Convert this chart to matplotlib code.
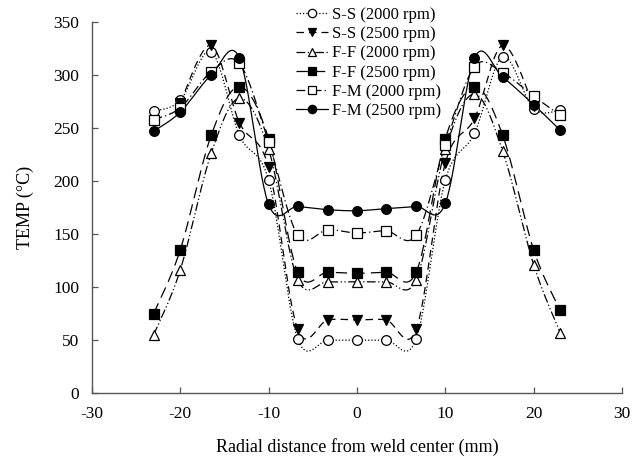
import matplotlib

matplotlib.use("Agg")
import matplotlib.pyplot as plt  # noqa: E402
import numpy as np  # noqa: E402
from matplotlib.lines import Line2D  # noqa: E402

plt.rcParams["font.family"] = ["Liberation Serif", "DejaVu Serif"]
plt.rcParams["axes.unicode_minus"] = False

# radial positions of thermocouples (mm)
X_FULL = [-23, -20, -16.5, -13.3, -10, -6.7, -3.3, 0, 3.3, 6.7, 10, 13.3, 16.5, 20, 23]
X_SS25 = X_FULL[1:-1]

ss_2000 = [266, 276, 322, 243, 201, 51, 50, 50, 50, 51, 201, 245, 317, 268, 267]
ss_2500 = [274, 328, 255, 213, 60, 69, 69, 69, 60, 217, 259, 328, 271]
ff_2000 = [55, 116, 226, 278, 230, 107, 105, 105, 105, 107, 230, 282, 228, 121, 57]
ff_2500 = [75, 135, 243, 289, 240, 114, 114, 113, 114, 114, 240, 289, 243, 135, 78]
fm_2000 = [258, 269, 303, 311, 237, 149, 154, 151, 153, 149, 234, 308, 302, 280, 262]
fm_2500 = [247, 265, 300, 316, 178, 176, 173, 172, 174, 176, 179, 316, 298, 272, 248]

LABELS = ["S-S (2000 rpm)", "S-S (2500 rpm)", "F-F (2000 rpm)",
          "F-F (2500 rpm)", "F-M (2000 rpm)", "F-M (2500 rpm)"]


def smooth(x, y, n=30):
    """Excel-style smoothed line: cubic Bezier with Catmull-Rom tangents."""
    p = np.column_stack([x, y]).astype(float)
    p = np.vstack([p[0], p, p[-1]])
    t = np.linspace(0, 1, n)[:, None]
    segs = []
    for i in range(1, len(p) - 2):
        p0, p1, p2, p3 = p[i - 1], p[i], p[i + 1], p[i + 2]
        c1 = p1 + (p2 - p0) / 6.0
        c2 = p2 - (p3 - p1) / 6.0
        b = ((1 - t) ** 3) * p1 + 3 * ((1 - t) ** 2) * t * c1 \
            + 3 * (1 - t) * t ** 2 * c2 + t ** 3 * p2
        segs.append(b if i == 1 else b[1:])
    out = np.vstack(segs)
    return out[:, 0], out[:, 1]


series = [
    (X_FULL, ss_2000, "o", "white", (0, (1, 1.6))),
    (X_SS25, ss_2500, "v", "black", (0, (6, 4))),
    (X_FULL, ff_2000, "^", "white", (0, (7, 2, 1, 2, 1, 2))),
    (X_FULL, ff_2500, "s", "black", (0, (9, 5))),
    (X_FULL, fm_2000, "s", "white", (0, (7, 2.5, 1, 2.5))),
    (X_FULL, fm_2500, "o", "black", "-"),
]

fig = plt.figure(figsize=(6.38, 4.68), dpi=100)
ax = fig.add_axes([0.144, 0.160, 0.831, 0.793])

handles = []
for (xs, ys, mk, fc, ls), lab in zip(series, LABELS):
    sx, sy = smooth(xs, ys)
    ax.plot(sx, sy, color="black", lw=0.9, ls=ls, zorder=2)
    ax.plot(xs, ys, ls="none", marker=mk, ms=7, mfc=fc, mec="black",
            mew=0.9, zorder=3)
    handles.append(Line2D([0], [0], color="black", lw=0.9, ls=ls, marker=mk,
                          ms=6, mfc=fc, mec="black", mew=0.9))

ax.set_xlim(-30, 30)
ax.set_ylim(0, 350)
ax.set_xticks(np.arange(-30, 31, 10))
ax.set_yticks(np.arange(0, 351, 50))
ax.tick_params(direction="in", length=4, width=0.9, color="#555555",
               labelsize=12.5, pad=9)
for s in ("top", "right"):
    ax.spines[s].set_visible(False)
for s in ("left", "bottom"):
    ax.spines[s].set_color("#555555")
    ax.spines[s].set_linewidth(1.0)

ax.set_xlabel("Radial distance from weld center (mm)", fontsize=13, labelpad=12)
ax.set_ylabel("TEMP (°C)", fontsize=13, labelpad=14)

leg = ax.legend(handles=handles, labels=LABELS, loc="upper left",
                bbox_to_anchor=(0.385, 1.04), frameon=False, fontsize=12,
                handlelength=1.9, handletextpad=0.25, labelspacing=0.19,
                borderaxespad=0, borderpad=0)

fig.savefig("out.png", dpi=100)
